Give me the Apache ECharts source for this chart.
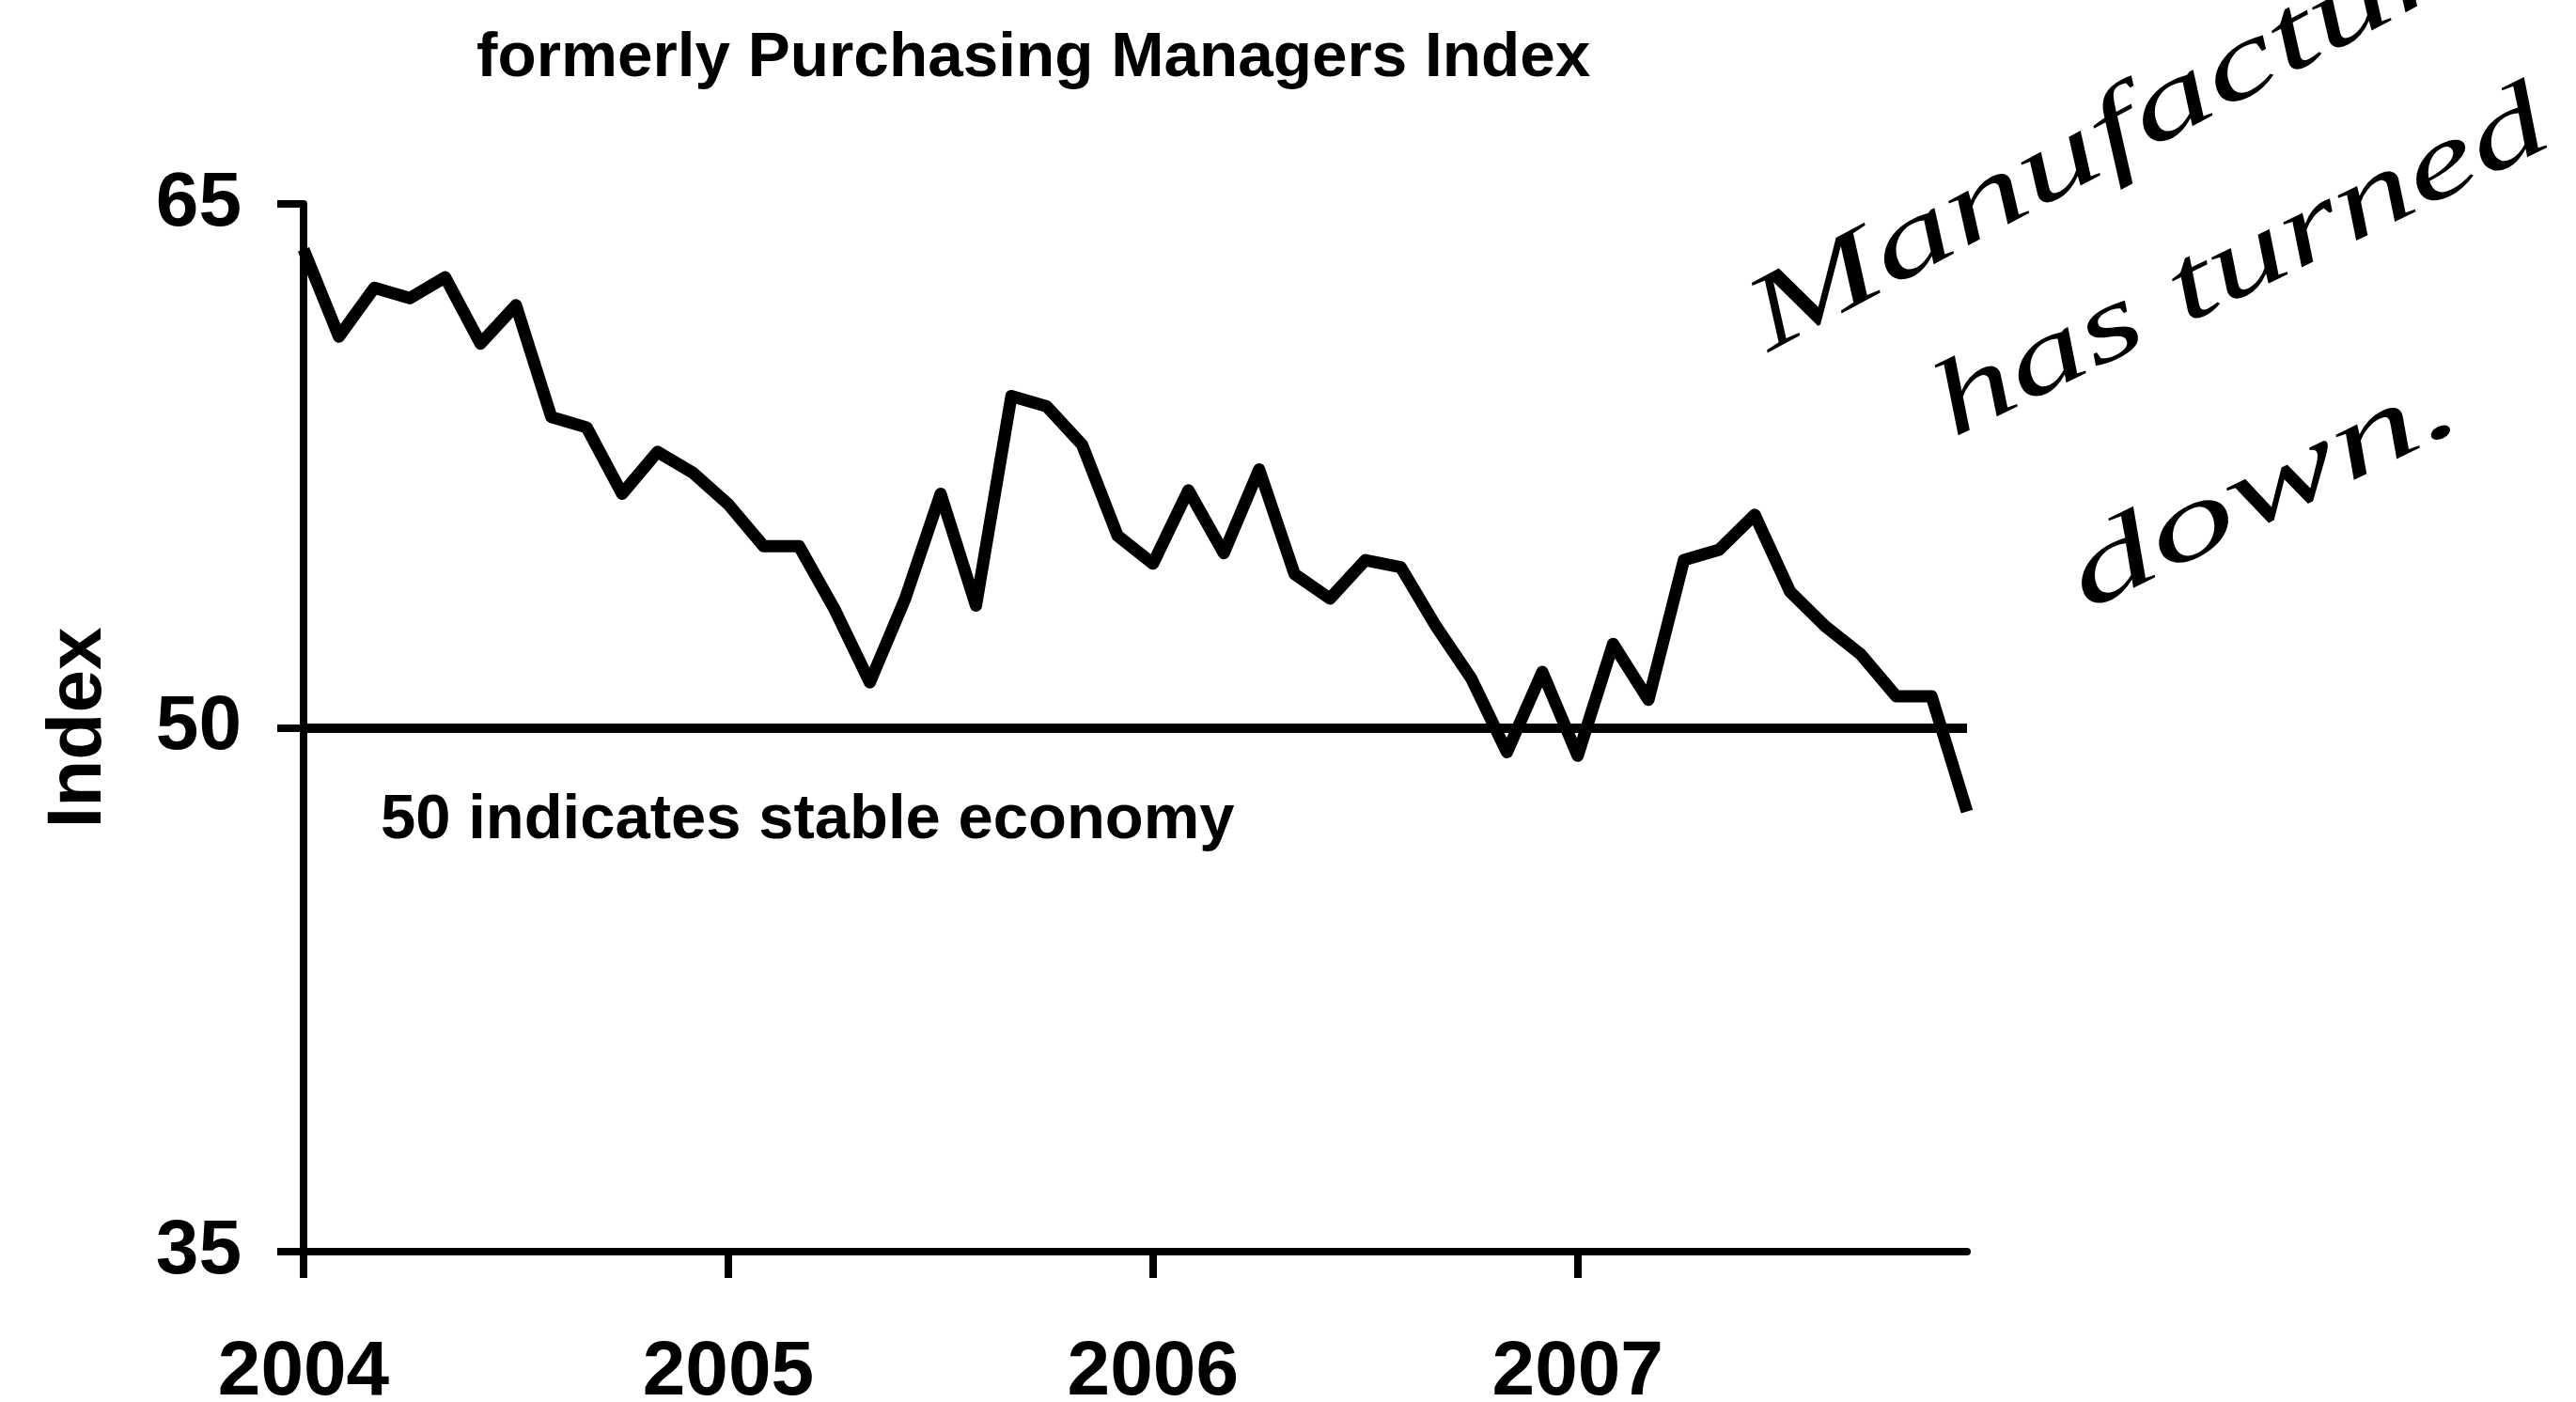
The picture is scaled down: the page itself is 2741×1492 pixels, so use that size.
<!DOCTYPE html>
<html>
<head>
<meta charset="utf-8">
<title>Purchasing Managers Index</title>
<script src="https://cdn.jsdelivr.net/npm/echarts@6/dist/echarts.min.js"></script>
<style>
  html, body { margin: 0; padding: 0; background: #fff; }
  #pmi { width: 2741px; height: 1492px; }
</style>
</head>
<body>
<div id="pmi"></div>
<script>
// monthly index, Jan 2004 .. Dec 2007
var months = [
    '2004-01', '2004-02', '2004-03', '2004-04', '2004-05', '2004-06', '2004-07', '2004-08', '2004-09', '2004-10', '2004-11', '2004-12',
    '2005-01', '2005-02', '2005-03', '2005-04', '2005-05', '2005-06', '2005-07', '2005-08', '2005-09', '2005-10', '2005-11', '2005-12',
    '2006-01', '2006-02', '2006-03', '2006-04', '2006-05', '2006-06', '2006-07', '2006-08', '2006-09', '2006-10', '2006-11', '2006-12',
    '2007-01', '2007-02', '2007-03', '2007-04', '2007-05', '2007-06', '2007-07', '2007-08', '2007-09', '2007-10', '2007-11', '2007-12'
];
var pmiValues = [
    63.7, 61.2, 62.6, 62.3, 62.9, 61.0, 62.1, 58.9, 58.6, 56.7, 57.9, 57.3,
    56.4, 55.2, 55.2, 53.4, 51.3, 53.7, 56.7, 53.5, 59.5, 59.2, 58.1, 55.5,
    54.7, 56.8, 55.0, 57.4, 54.4, 53.7, 54.8, 54.6, 52.9, 51.4, 49.3, 51.6,
    49.2, 52.4, 50.8, 54.8, 55.1, 56.1, 53.9, 52.9, 52.1, 50.9, 50.9, 47.6
];
var yearLabels = ['2004', '2005', '2006', '2007'];
var yTicks = [35, 50, 65];
var stableLevel = 50;

var font = 'Liberation Sans, Arial, sans-serif';
var hand = 'Liberation Serif, serif';

function isYearStart(i) {
    return i % 12 === 0;
}

// handwritten note, written at a slant
function note(text, x, y, rot, sx) {
    return {
        type: 'text',
        x: x,
        y: y,
        rotation: rot,
        scaleX: sx,
        scaleY: 0.75,
        style: {
            text: text,
            fill: '#000',
            font: 'italic 150px ' + hand,
            verticalAlign: 'bottom'
        }
    };
}

var chart = echarts.init(document.getElementById('pmi'));
var option = {
    backgroundColor: '#fff',
    animation: false,
    grid: {
        left: 323,
        right: 648,
        top: 217,
        bottom: 160,
        outerBoundsMode: 'none',
        containLabel: false
    },
    xAxis: {
        type: 'category',
        data: months,
        boundaryGap: false,
        axisLine: { lineStyle: { color: '#000', width: 8 } },
        axisTick: {
            show: true,
            interval: isYearStart,
            length: 28,
            lineStyle: { color: '#000', width: 8 }
        },
        axisLabel: {
            interval: isYearStart,
            formatter: function(v) {
                var y = v.slice(0, 4);
                return yearLabels.indexOf(y) >= 0 ? y : '';
            },
            color: '#000',
            fontFamily: font,
            fontWeight: 'bold',
            fontSize: 82,
            margin: 88
        },
        splitLine: { show: false }
    },
    yAxis: {
        type: 'value',
        min: yTicks[0],
        max: yTicks[yTicks.length - 1],
        interval: 15,
        name: 'Index',
        nameLocation: 'middle',
        nameGap: 198,
        nameTextStyle: {
            color: '#000',
            fontFamily: font,
            fontWeight: 'bold',
            fontSize: 82
        },
        axisLine: { show: true, lineStyle: { color: '#000', width: 8 } },
        axisTick: { show: true, length: 28, lineStyle: { color: '#000', width: 8 } },
        axisLabel: {
            color: '#000',
            fontFamily: font,
            fontWeight: 'bold',
            fontSize: 82,
            margin: 66
        },
        splitLine: { show: false }
    },
    series: [{
        name: 'PMI',
        type: 'line',
        data: pmiValues,
        symbol: 'none',
        lineStyle: { color: '#000', width: 13, join: 'round' },
        markLine: {
            silent: true,
            symbol: 'none',
            label: { show: false },
            lineStyle: { color: '#000', width: 10, type: 'solid' },
            data: [{ yAxis: stableLevel }]
        }
    }],
    graphic: [{
        type: 'text',
        left: 507,
        top: 28,
        style: {
            text: 'formerly Purchasing Managers Index',
            fill: '#000',
            font: 'bold 67.5px ' + font
        }
    }, {
        type: 'text',
        left: 405,
        top: 840,
        style: {
            text: '50 indicates stable economy',
            fill: '#000',
            font: 'bold 67px ' + font
        }
    },
        note('Manufacturing,', 1895, 398, 0.49, 1.17),
        note('has turned', 2090, 490, 0.455, 1.12),
        note('down.', 2232, 674, 0.455, 1.24)
    ]
};
chart.setOption(option);
</script>
</body>
</html>
